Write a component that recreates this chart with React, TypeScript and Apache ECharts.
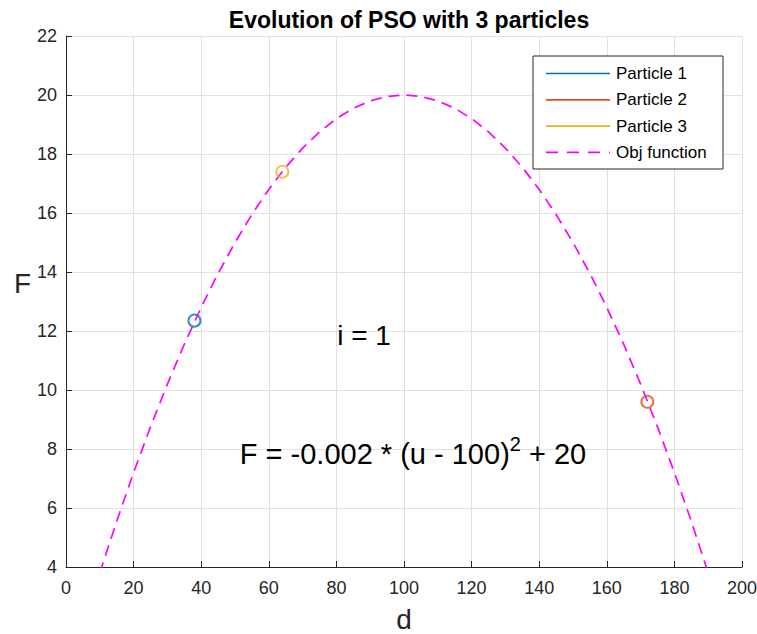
import React, { useEffect, useRef } from "react";
import * as echarts from "echarts";

const titleText = "Evolution of PSO with 3 particles";
const xName = "d";
const yName = "F";

// Objective function samples (u, F)
const objU = [10, 15, 20, 25, 30, 35, 40, 45, 50, 55, 60, 65, 70, 75, 80, 85, 90, 95, 100,
  105, 110, 115, 120, 125, 130, 135, 140, 145, 150, 155, 160, 165, 170, 175, 180, 185, 190];
const objF = [3.8, 5.55, 7.2, 8.75, 10.2, 11.55, 12.8, 13.95, 15, 15.95, 16.8, 17.55, 18.2, 18.75, 19.2, 19.55, 19.8, 19.95, 20,
  19.95, 19.8, 19.55, 19.2, 18.75, 18.2, 17.55, 16.8, 15.95, 15, 13.95, 12.8, 11.55, 10.2, 8.75, 7.2, 5.55, 3.8];

const particleNames = ["Particle 1", "Particle 2", "Particle 3"];
const particleX = [38, 172, 64];
const particleY = [12.35, 9.6, 17.4];
const particleColors = ["#0072BD", "#D95319", "#EDB120"];
const objName = "Obj function";
const objColor = "#FF00FF";

const iterText = "i = 1";
const formulaMain = "F = -0.002 * (u - 100)";
const formulaSup = "2";
const formulaTail = " + 20";

const FONT = "'Liberation Sans', Arial, Helvetica, sans-serif";
const AX = "#262626";

export default function App() {
  const ref = useRef<HTMLDivElement>(null);

  useEffect(() => {
    if (!ref.current) return;
    const chart = echarts.init(ref.current, null, { renderer: "svg" });

    const series: any[] = [
      {
        name: objName,
        type: "line",
        data: objU.map((u, i) => [u, objF[i]]),
        showSymbol: false,
        symbol: "none",
        clip: true,
        lineStyle: { color: objColor, width: 1.7, type: [11, 7] },
        z: 2,
      },
      ...particleNames.map((n, i) => ({
        name: n,
        type: "scatter",
        data: [[particleX[i], particleY[i]]],
        symbol: "circle",
        symbolSize: 12,
        itemStyle: { color: "rgba(0,0,0,0)", borderColor: particleColors[i], borderWidth: 2 },
        z: 3,
      })),
    ];

    const legendRows = [
      ...particleNames.map((n, i) => ({ name: n, color: particleColors[i], dash: null as any })),
      { name: objName, color: objColor, dash: [12, 9] },
    ];
    const lx = 533, ly = 56, lw = 190, lh = 113;
    const graphics: any[] = [
      {
        type: "rect",
        z: 100,
        shape: { x: lx, y: ly, width: lw, height: lh },
        style: { fill: "#ffffff", stroke: AX, lineWidth: 1 },
      },
    ];
    legendRows.forEach((r, i) => {
      const y = 73.5 + i * 26.3;
      const lineStyle: any = { stroke: r.color, lineWidth: 1.7, fill: "none" };
      if (r.dash) lineStyle.lineDash = r.dash;
      graphics.push({
        type: "line",
        z: 101,
        shape: { x1: 546, y1: y, x2: 610, y2: y },
        style: lineStyle,
      });
      graphics.push({
        type: "text",
        z: 101,
        x: 616,
        y: y,
        style: { text: r.name, font: `17px ${FONT}`, fill: "#000", verticalAlign: "middle", align: "left" },
      });
    });

    chart.setOption({
      animation: false,
      backgroundColor: "#fff",
      title: {
        text: titleText,
        left: 404,
        top: 3,
        textAlign: "center",
        textStyle: { fontFamily: FONT, fontSize: 23, fontWeight: "bold", color: "#000" },
      },
      grid: { left: 66, right: 15, top: 36, bottom: 67, containLabel: false, outerBoundsMode: "none" },
      xAxis: {
        type: "value",
        min: 0,
        max: 200,
        interval: 20,
        name: xName,
        nameLocation: "middle",
        nameGap: 38,
        nameTextStyle: { fontFamily: FONT, fontSize: 28, color: AX, lineHeight: 28 },
        axisLine: { show: true, onZero: false, lineStyle: { color: AX, width: 1 } },
        axisTick: { show: true, inside: true, length: 6, lineStyle: { color: AX } },
        axisLabel: { fontFamily: FONT, fontSize: 18, color: AX, margin: 12 },
        splitLine: { show: true, lineStyle: { color: "#e1e1e1", width: 1 } },
      },
      yAxis: {
        type: "value",
        min: 4,
        max: 22,
        interval: 2,
        name: yName,
        nameLocation: "middle",
        nameRotate: 0,
        nameGap: 34,
        nameTextStyle: { fontFamily: FONT, fontSize: 28, color: AX, verticalAlign: "bottom", padding: [0, 0, 4, 0] },
        axisLine: { show: true, onZero: false, lineStyle: { color: AX, width: 1 } },
        axisTick: { show: true, inside: true, length: 6, lineStyle: { color: AX } },
        axisLabel: { fontFamily: FONT, fontSize: 18, color: AX, margin: 9 },
        splitLine: { show: true, lineStyle: { color: "#e1e1e1", width: 1 } },
      },
      series,
      graphic: [
        {
          type: "text",
          x: 364,
          y: 335,
          z: 10,
          style: { text: iterText, font: `28px ${FONT}`, fill: "#000", align: "center", verticalAlign: "middle" },
        },
        {
          type: "text",
          x: 413,
          y: 454,
          z: 10,
          style: {
            text: `{m|${formulaMain}}{s|${formulaSup}}{m|${formulaTail}}`,
            align: "center",
            verticalAlign: "middle",
            rich: {
              m: { fontFamily: FONT, fontSize: 29, color: "#000" },
              s: { fontFamily: FONT, fontSize: 20, color: "#000", padding: [0, 0, 20, 0] },
            },
          },
        },
        ...graphics,
      ],
    });

    return () => chart.dispose();
  }, []);

  return (
    <div
      ref={ref}
      style={{ position: "absolute", left: 0, top: 0, width: 757, height: 634, background: "#fff" }}
    />
  );
}
